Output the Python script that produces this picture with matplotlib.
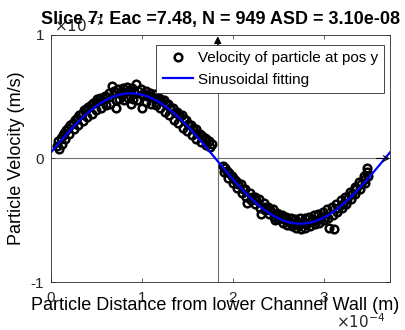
import numpy as np
import matplotlib.pyplot as plt

plt.rcParams['font.family'] = ['Liberation Sans', 'DejaVu Sans']

# particle positions (x 1e-4 m) and velocities (x 1e-7 m/s), upper half of channel
x_left = [0.07, 0.08, 0.09, 0.11, 0.12, 0.13, 0.14, 0.15, 0.16, 0.19, 0.20, 0.21,
          0.24, 0.25, 0.26, 0.29, 0.30, 0.31, 0.34, 0.35, 0.36, 0.39, 0.40, 0.41,
          0.44, 0.45, 0.46, 0.49, 0.50, 0.51, 0.54, 0.55, 0.56, 0.59, 0.60, 0.61,
          0.64, 0.65, 0.67, 0.69, 0.71, 0.72, 0.74, 0.75, 0.76, 0.79, 0.80, 0.81,
          0.84, 0.85, 0.86, 0.88, 0.89, 0.90, 0.91, 0.94, 0.95, 0.96, 0.99, 1.00,
          1.01, 1.04, 1.05, 1.06, 1.09, 1.10, 1.11, 1.14, 1.15, 1.16, 1.19, 1.20,
          1.21, 1.24, 1.25, 1.26, 1.29, 1.30, 1.31, 1.34, 1.35, 1.36, 1.39, 1.40,
          1.41, 1.44, 1.45, 1.46, 1.49, 1.50, 1.51, 1.54, 1.55, 1.56, 1.59, 1.60,
          1.61, 1.64, 1.65, 1.66, 1.69, 1.70, 1.71, 1.74, 1.75, 1.77]
v_left = [0.10, 0.14, 0.08, 0.17, 0.12, 0.19, 0.21, 0.16, 0.23, 0.25, 0.20, 0.27,
          0.29, 0.24, 0.31, 0.33, 0.27, 0.35, 0.36, 0.30, 0.39, 0.40, 0.34, 0.42,
          0.43, 0.36, 0.45, 0.46, 0.39, 0.48, 0.49, 0.41, 0.47, 0.51, 0.43, 0.50,
          0.53, 0.44, 0.59, 0.55, 0.47, 0.41, 0.56, 0.48, 0.53, 0.57, 0.47, 0.54,
          0.58, 0.49, 0.55, 0.44, 0.57, 0.48, 0.54, 0.60, 0.47, 0.55, 0.56, 0.41,
          0.52, 0.55, 0.46, 0.51, 0.53, 0.44, 0.50, 0.52, 0.43, 0.48, 0.49, 0.41,
          0.47, 0.47, 0.38, 0.44, 0.44, 0.35, 0.41, 0.41, 0.31, 0.38, 0.38, 0.29,
          0.35, 0.35, 0.25, 0.32, 0.31, 0.22, 0.28, 0.27, 0.19, 0.25, 0.24, 0.16,
          0.21, 0.20, 0.13, 0.18, 0.17, 0.11, 0.16, 0.14, 0.09, 0.12]

# lower half of channel
x_right = [1.89, 1.90, 1.91, 1.94, 1.95, 1.96, 1.99, 2.00, 2.01, 2.04, 2.05, 2.06,
           2.09, 2.10, 2.11, 2.14, 2.15, 2.16, 2.19, 2.20, 2.21, 2.24, 2.25, 2.26,
           2.29, 2.30, 2.31, 2.34, 2.35, 2.36, 2.39, 2.40, 2.41, 2.44, 2.45, 2.46,
           2.49, 2.50, 2.51, 2.54, 2.55, 2.56, 2.59, 2.60, 2.61, 2.64, 2.65, 2.66,
           2.69, 2.70, 2.71, 2.74, 2.75, 2.76, 2.79, 2.80, 2.81, 2.84, 2.85, 2.86,
           2.89, 2.90, 2.91, 2.94, 2.95, 2.96, 2.99, 3.00, 3.01, 3.04, 3.05, 3.06,
           3.09, 3.10, 3.11, 3.14, 3.15, 3.16, 3.19, 3.20, 3.21, 3.24, 3.25, 3.26,
           3.29, 3.30, 3.31, 3.34, 3.35, 3.36, 3.39, 3.40, 3.41, 3.44, 3.45, 3.46,
           3.48, 3.48, 3.49]
v_right = [-0.06, -0.11, -0.08, -0.10, -0.16, -0.12, -0.14, -0.20, -0.17, -0.18,
           -0.24, -0.21, -0.21, -0.28, -0.25, -0.25, -0.31, -0.36, -0.28, -0.34,
           -0.31, -0.31, -0.37, -0.34, -0.33, -0.40, -0.45, -0.36, -0.42, -0.39,
           -0.39, -0.45, -0.42, -0.41, -0.47, -0.50, -0.44, -0.49, -0.46, -0.46,
           -0.52, -0.49, -0.47, -0.54, -0.51, -0.48, -0.55, -0.52, -0.49, -0.56,
           -0.53, -0.48, -0.57, -0.52, -0.48, -0.56, -0.53, -0.47, -0.55, -0.51,
           -0.46, -0.53, -0.50, -0.45, -0.52, -0.49, -0.43, -0.50, -0.47, -0.41,
           -0.48, -0.56, -0.39, -0.46, -0.57, -0.37, -0.43, -0.40, -0.34, -0.40,
           -0.37, -0.31, -0.37, -0.33, -0.27, -0.33, -0.29, -0.23, -0.29, -0.25,
           -0.19, -0.25, -0.21, -0.14, -0.20, -0.17, -0.08, -0.11, -0.14]

channel_width = 3.73   # x 1e-4 m
center_x = 1.835       # x 1e-4 m

xs = np.array(x_left + x_right)
vs = np.array(v_left + v_right)

# sinusoid fit: linear least squares in (sin, cos) for each trial period
best = None
for period in np.linspace(3.4, 4.2, 161):
    w = 2 * np.pi / period
    A = np.column_stack([np.sin(w * xs), np.cos(w * xs)])
    coef, res, _, _ = np.linalg.lstsq(A, vs, rcond=None)
    err = np.sum((A @ coef - vs) ** 2)
    if best is None or err < best[0]:
        best = (err, w, coef)
_, w, coef = best
xf = np.linspace(0, channel_width, 300)
vf = coef[0] * np.sin(w * xf) + coef[1] * np.cos(w * xf)

fig = plt.figure(figsize=(4.06, 3.30), dpi=100)
ax = fig.add_axes([51 / 406, 48 / 330, 339 / 406, 247 / 330])

ax.plot(xs, vs, 'o', mfc='none', mec='black', ms=5.5, mew=1.8,
        label='Velocity of particle at pos y')
ax.plot(xf, vf, color=(0, 0, 1), lw=1.6, label='Sinusoidal fitting')

# centre line and zero line with arrow heads
gray = '#707070'
ax.plot([center_x, center_x], [-1, 0.97], color=gray, lw=0.8, zorder=1)
ax.plot([0, channel_width * 0.99], [0, 0], color=gray, lw=0.8, zorder=1)
ax.annotate('', xy=(center_x, 0.99), xytext=(center_x, 0.88),
            arrowprops=dict(arrowstyle='-|>', color='black', lw=0.8,
                            mutation_scale=11, shrinkA=0, shrinkB=0))
ax.annotate('', xy=(channel_width, 0), xytext=(channel_width - 0.15, 0),
            arrowprops=dict(arrowstyle='->', color='black', lw=0.8,
                            mutation_scale=10, shrinkA=0, shrinkB=0))

ax.set_xlim(0, channel_width)
ax.set_ylim(-1, 1)
ax.set_xticks([0, 1, 2, 3])
ax.set_yticks([-1, 0, 1])
ax.set_yticklabels(['-1', '0', '1'])
ax.tick_params(direction='in', length=3, width=0.5, top=True, right=True,
               labelsize=11, colors='#262626', pad=5)
ax.tick_params(axis='x', pad=6.5)
for s in ax.spines.values():
    s.set_linewidth(0.6)
    s.set_color('#262626')

ax.set_xlabel('Particle Distance from lower Channel Wall (m)', fontsize=13)
ax.xaxis.set_label_coords(0.485, -0.13, transform=ax.transAxes)
ax.xaxis.label.set_va('bottom')
ax.set_ylabel('Particle Velocity (m/s)', fontsize=13, labelpad=4)
ax.set_title('Slice 7: Eac =7.48, N = 949 ASD = 3.10e-08', fontsize=13,
             fontweight='bold', pad=8)

ax.text(0.01, 1.0, r'$\times10^{-7}$', transform=ax.transAxes, fontsize=11,
        color='#262626', va='bottom', ha='left', zorder=0)
ax.text(0.985, -0.2, r'$\times10^{-4}$', transform=ax.transAxes, fontsize=11,
        color='#262626', va='bottom', ha='right', zorder=0)

leg = ax.legend(loc='upper right', bbox_to_anchor=(0.982, 0.96),
                borderaxespad=0, fontsize=11, fancybox=False,
                edgecolor='#262626', framealpha=1, handlelength=2.0,
                borderpad=0.4, labelspacing=0.5, handletextpad=0.3)
leg.get_frame().set_linewidth(0.6)

fig.savefig('out.png', dpi=100)
